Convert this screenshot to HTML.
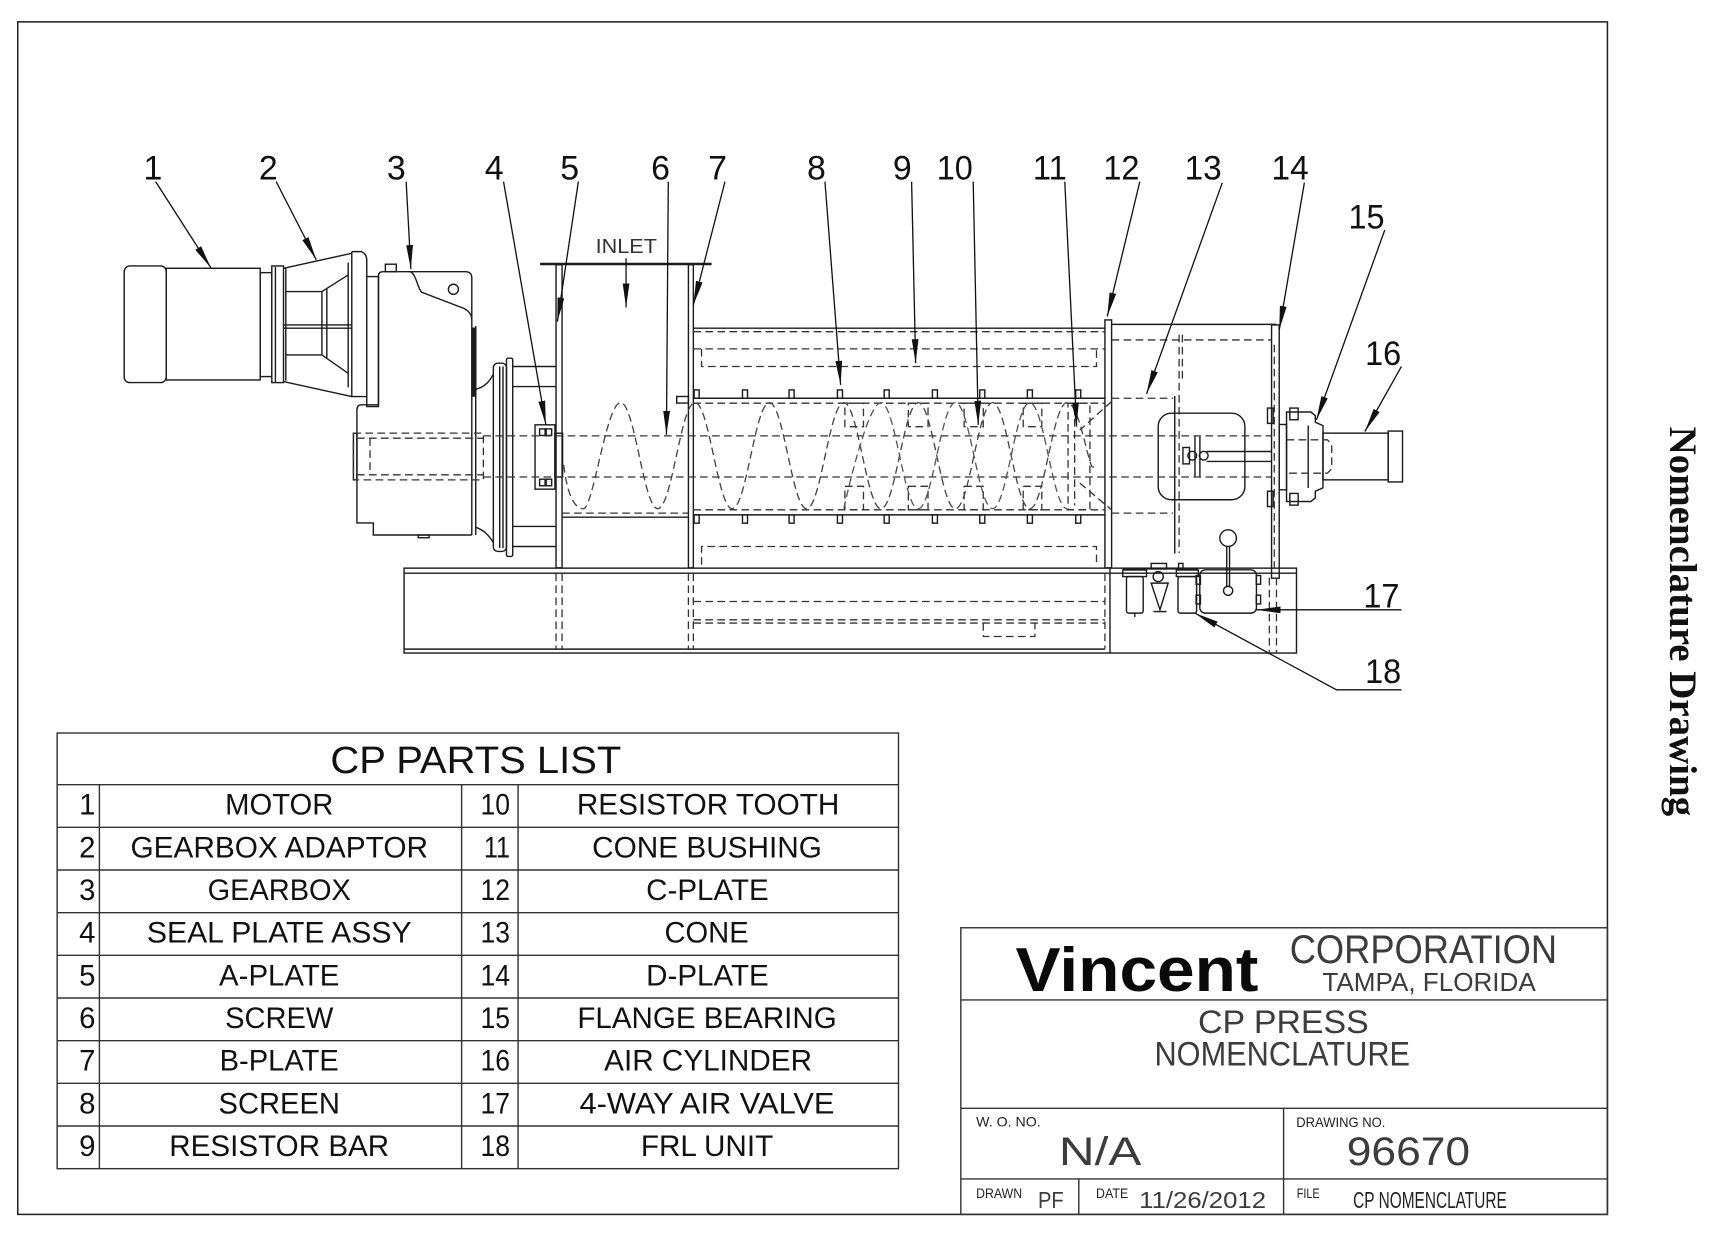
<!DOCTYPE html>
<html><head><meta charset="utf-8"><style>
html,body{margin:0;padding:0;background:#fff;}
svg{display:block;}
</style></head><body>
<svg width="1716" height="1233" viewBox="0 0 1568 1127" xmlns="http://www.w3.org/2000/svg">
<defs>
<marker id="ah" markerUnits="userSpaceOnUse" markerWidth="22" markerHeight="8" refX="22" refY="4" orient="auto"><path d="M0,0.9 L22,4 L0,7.1 z" fill="#111"/></marker>
</defs>
<rect width="1568" height="1127" fill="#fff"/>

<!-- outer border -->
<g fill="none" stroke="#222" stroke-width="1.4">
<rect x="16" y="20" width="1453" height="1090"/>
</g>

<!-- ===== DRAWING SOLID ===== -->
<g fill="none" stroke="#1c1c1c" stroke-width="1.3">
<!-- motor -->
<rect x="113.3" y="243.1" width="38.4" height="106.6" rx="5"/>
<rect x="151.7" y="245.2" width="85.9" height="102.1"/>
<rect x="237.6" y="249.2" width="10.6" height="95"/>
<rect x="248.2" y="243.1" width="10.7" height="106.6"/>
<line x1="251.5" y1="244" x2="251.5" y2="349"/>
<!-- adaptor -->
<line x1="258.9" y1="245.2" x2="321.3" y2="231.5"/>
<line x1="258.9" y1="348.8" x2="321.3" y2="362.5"/>
<path d="M261,266.5 L294,266.5 L318,251.3"/>
<path d="M261,324.4 L294,324.4 L318,341.2"/>
<line x1="261" y1="245" x2="261" y2="348"/>
<line x1="294" y1="266.5" x2="294" y2="324.4"/>
<line x1="298.5" y1="264" x2="298.5" y2="327"/>
<line x1="258.9" y1="297" x2="321.3" y2="297"/>
<line x1="258.9" y1="300" x2="321.3" y2="300"/>
<line x1="318" y1="240" x2="318" y2="354"/>
<path d="M321.3,230 L330,230 Q335,232 335,238 L335,252.8 M335,362.5 L321.3,362.5 L321.3,230"/>
<rect x="335" y="252.8" width="10.7" height="118.8"/>
<!-- gearbox -->
<path d="M345.7,370 L345.7,252 Q345.7,248.3 350,248.3 L425,248.3 Q431,248.3 431,254 L431,489"/>
<path d="M345.7,370 L330,370 Q326,370 326,375 L326,478 L341,478 L341,489 L431,489"/>
<path d="M374.6,248.3 C380,250 381,262 385,267 L424,282 Q431,286 431,292"/>
<circle cx="414.2" cy="264.4" r="4.6"/>
<rect x="352" y="241.5" width="10" height="6.8"/>
<line x1="434.6" y1="298" x2="434.6" y2="489"/>
<rect x="431.3" y="300" width="3.3" height="62" fill="#1c1c1c"/>
<rect x="382" y="489" width="10" height="2.5"/>
<rect x="322.8" y="396" width="3.2" height="42.6"/>
<!-- neck to bearing housing -->
<path d="M434.6,356 C441,354 446,351 450.7,342"/>
<path d="M434.6,482 C441,484 446,488 450.7,496"/>
<!-- bearing housing -->
<rect x="450.7" y="332" width="12" height="172" rx="4"/>
<line x1="456.5" y1="335" x2="456.5" y2="501"/>
<line x1="459.5" y1="335" x2="459.5" y2="501"/>
<rect x="462.7" y="327.4" width="5.7" height="181.2" rx="1.5"/>
<line x1="468.4" y1="335" x2="508" y2="335"/>
<line x1="468.4" y1="353.3" x2="508" y2="353.3"/>
<line x1="468.4" y1="481.2" x2="508" y2="481.2"/>
<line x1="468.4" y1="499.5" x2="508" y2="499.5"/>
<!-- seal plate -->
<rect x="488.8" y="388.3" width="18.2" height="58.8"/>
<rect x="493" y="392" width="5" height="6"/>
<rect x="499" y="392" width="5" height="6"/>
<rect x="493" y="438" width="5" height="6"/>
<rect x="499" y="438" width="5" height="6"/>
<rect x="507" y="396" width="7" height="40"/>
<!-- A-plate, inlet, B-plate -->
<rect x="508" y="242" width="5.5" height="277"/>
<line x1="493.4" y1="241.3" x2="650.2" y2="241.3" stroke-width="2.2"/>
<rect x="629" y="242" width="4.5" height="277"/>
<rect x="618.3" y="362.4" width="10.7" height="6"/>
<line x1="513.5" y1="472.7" x2="629" y2="472.7"/>
<!-- screen housing -->
<line x1="633.5" y1="300" x2="1009.7" y2="300"/>
<line x1="633.5" y1="364" x2="1009.7" y2="364"/>
<line x1="633.5" y1="470.6" x2="1009.7" y2="470.6"/>
<!-- teeth -->
<g>
<rect x="634.2" y="356.4" width="4.6" height="7.6"/><rect x="678.4" y="356.4" width="4.6" height="7.6"/><rect x="721" y="356.4" width="4.6" height="7.6"/><rect x="765.2" y="356.4" width="4.6" height="7.6"/><rect x="807.9" y="356.4" width="4.6" height="7.6"/><rect x="852" y="356.4" width="4.6" height="7.6"/><rect x="895.3" y="356.4" width="4.6" height="7.6"/><rect x="938.8" y="356.4" width="4.6" height="7.6"/><rect x="983" y="356.4" width="4.6" height="7.6"/>
<rect x="634.2" y="470.6" width="4.6" height="7.6"/><rect x="678.4" y="470.6" width="4.6" height="7.6"/><rect x="721" y="470.6" width="4.6" height="7.6"/><rect x="765.2" y="470.6" width="4.6" height="7.6"/><rect x="807.9" y="470.6" width="4.6" height="7.6"/><rect x="852" y="470.6" width="4.6" height="7.6"/><rect x="895.3" y="470.6" width="4.6" height="7.6"/><rect x="938.8" y="470.6" width="4.6" height="7.6"/><rect x="983" y="470.6" width="4.6" height="7.6"/>
</g>
<!-- C-plate, right housing, D-plate -->
<rect x="1009.7" y="292.4" width="6.1" height="226.6"/>
<line x1="1014.3" y1="519" x2="1014.3" y2="597"/>
<line x1="1015.8" y1="296.5" x2="1166.5" y2="296.5"/>
<rect x="1162" y="297" width="7" height="231.5"/>
<line x1="1073.5" y1="362" x2="1073.5" y2="506"/>
<!-- window & coupling -->
<rect x="1058.4" y="377.7" width="79.2" height="79.1" rx="12"/>
<line x1="1092" y1="399" x2="1092" y2="435.5"/>
<line x1="1096.5" y1="399" x2="1096.5" y2="435.5"/>
<rect x="1081" y="409" width="6" height="15"/>
<circle cx="1089.5" cy="416.5" r="4"/>
<circle cx="1100" cy="416.5" r="4"/>
<line x1="1102.6" y1="412.7" x2="1162" y2="412.7"/>
<line x1="1102.6" y1="421.8" x2="1162" y2="421.8"/>
<!-- flange bearing -->
<rect x="1169" y="388" width="6.7" height="59.7"/>
<path d="M1175.7,376.6 L1198,376.6 L1202,380 L1202,386 L1209,389 L1209,446 L1202,449 L1202,455 L1198,458.4 L1175.7,458.4 Z"/>
<line x1="1195.5" y1="389" x2="1195.5" y2="446"/>
<rect x="1158.3" y="373" width="5.2" height="14"/>
<rect x="1158.3" y="449" width="5.2" height="14"/>
<rect x="1178.7" y="373" width="7.6" height="10.7"/>
<rect x="1178.7" y="451" width="7.6" height="10.7"/>
<!-- air cylinder -->
<rect x="1209" y="395.9" width="59.6" height="42.7"/>
<rect x="1268.6" y="394" width="13.1" height="46.5"/>
<!-- base -->
<rect x="369.1" y="519.3" width="815.7" height="77.6"/>
<line x1="369.1" y1="523.9" x2="1184.8" y2="523.9"/>
<line x1="369.1" y1="593.3" x2="1009.7" y2="593.3"/>
<!-- FRL unit -->
<rect x="1026" y="521" width="21.7" height="6"/>
<rect x="1029.4" y="527" width="15.3" height="33.4" rx="2"/>
<line x1="1037" y1="560.4" x2="1037" y2="564"/>
<line x1="1026" y1="520" x2="1095" y2="520"/>
<circle cx="1058.4" cy="527" r="4.6"/>
<rect x="1052" y="515" width="14" height="5"/>
<path d="M1052,533 L1067.5,533 L1060,557.4 Z"/>
<line x1="1054" y1="559" x2="1066" y2="559"/>
<rect x="1075" y="521" width="20" height="6"/>
<rect x="1076.5" y="527" width="17" height="33.4" rx="2"/>
<rect x="1077" y="515" width="4" height="5"/>
<!-- 4-way valve -->
<rect x="1096.4" y="520.8" width="51.8" height="39.6" rx="5"/>
<rect x="1093" y="526" width="4" height="8"/><rect x="1093" y="544" width="4" height="8"/>
<rect x="1148" y="526" width="4" height="8"/><rect x="1148" y="544" width="4" height="8"/>
<line x1="1121" y1="499" x2="1121" y2="537"/>
<line x1="1123.6" y1="499" x2="1123.6" y2="537"/>
<circle cx="1122.3" cy="491.9" r="7.6"/>
<circle cx="1122.3" cy="540" r="4.2"/>
</g>

<!-- ===== HIDDEN (DASHED) LINES ===== -->
<g fill="none" stroke="#333" stroke-width="1.2" stroke-dasharray="7 4">
<!-- gearbox shaft -->
<rect x="322.8" y="395.9" width="118.8" height="42.7"/>
<line x1="326" y1="400.5" x2="441.6" y2="400.5"/>
<line x1="326" y1="434" x2="441.6" y2="434"/>
<line x1="338" y1="400.5" x2="338" y2="434"/>
<!-- main shaft -->
<line x1="441.6" y1="398.4" x2="1162" y2="398.4"/>
<line x1="441.6" y1="436" x2="1162" y2="436"/>
<!-- inlet bottom -->
<line x1="513.5" y1="469" x2="629" y2="469"/>
<!-- screen housing hidden -->
<line x1="633.5" y1="303.2" x2="1009.7" y2="303.2"/>
<line x1="633.5" y1="318.9" x2="1009.7" y2="318.9"/>
<path d="M641,318.9 L641,335 L1002,335 L1002,318.9"/>
<line x1="633.5" y1="368.5" x2="1009.7" y2="368.5"/>
<line x1="633.5" y1="466" x2="1009.7" y2="466"/>
<path d="M641,516.2 L641,499.5 L1002,499.5 L1002,517"/>
<!-- resistor teeth -->
<rect x="772" y="368.5" width="17" height="21.5"/>
<rect x="830" y="368.5" width="18" height="21.5"/>
<rect x="881" y="368.5" width="17.5" height="21.5"/>
<rect x="935" y="368.5" width="17" height="21.5"/>
<rect x="772" y="444.5" width="17" height="21.5"/>
<rect x="830" y="444.5" width="18" height="21.5"/>
<rect x="881" y="444.5" width="17.5" height="21.5"/>
<rect x="935" y="444.5" width="17" height="21.5"/>
<!-- cone bushing & cone -->
<rect x="976" y="368.5" width="20" height="97.5"/>
<line x1="982" y1="372" x2="982" y2="462"/>
<line x1="1015.8" y1="367" x2="986.8" y2="393"/>
<line x1="986.8" y1="441.6" x2="1015.8" y2="466"/>
<line x1="1015.8" y1="364" x2="1072" y2="364"/>
<line x1="1015.8" y1="469" x2="1072" y2="469"/>
<line x1="1015.8" y1="310.7" x2="1162" y2="310.7"/>
<line x1="1077.5" y1="306" x2="1077.5" y2="505.6"/>
<line x1="1080.5" y1="306" x2="1080.5" y2="350"/>
<line x1="1164.5" y1="315" x2="1164.5" y2="520"/>
<!-- base hidden -->
<line x1="508" y1="524" x2="508" y2="593"/>
<line x1="513.5" y1="524" x2="513.5" y2="593"/>
<line x1="629" y1="524" x2="629" y2="593"/>
<line x1="633.5" y1="524" x2="633.5" y2="593"/>
<line x1="1009.7" y1="524" x2="1009.7" y2="593"/>
<line x1="1160" y1="528" x2="1160" y2="597"/>
<line x1="1166.5" y1="528" x2="1166.5" y2="597"/>
<line x1="633.5" y1="549.8" x2="1009.7" y2="549.8"/>
<line x1="633.5" y1="566.5" x2="1009.7" y2="566.5"/>
<line x1="633.5" y1="569.5" x2="1009.7" y2="569.5"/>
<path d="M898.5,569.5 L898.5,581.8 L945.7,581.8 L945.7,569.5"/>
<!-- cylinder rod end -->
<path d="M1175.7,402 L1213,402 L1217,406 L1217,428.5 L1213,432.5 L1175.7,432.5"/>
<!-- screw flights -->
<path stroke="#444" d="M515,425 C518,450 524,465 533,465 S554,368 567,368 S588,465 601,465 S622,368 635,368 S656,465 669,465 S690,368 703,368 S724,465 737,465 S758,368 771,368 S792,465 805,465 S826,368 839,368 S860,465 873,465 S894,368 907,368 S928,465 941,465 S962,368 975,368 S996,440 1000,425"/>
<path stroke="#555" d="M771,465 S792,368 805,368 S826,465 839,465 S860,368 873,368 S894,465 907,465 S928,368 941,368 S962,465 975,465"/>
</g>

<!-- ===== LEADERS ===== -->
<g fill="none" stroke="#111" stroke-width="1.2" marker-end="url(#ah)">
<line x1="142" y1="166" x2="192.8" y2="245.2"/>
<line x1="252.2" y1="166" x2="288.9" y2="237.6"/>
<line x1="371" y1="166" x2="375.3" y2="246"/>
<line x1="460" y1="166" x2="498.7" y2="388.3"/>
<line x1="528.4" y1="166" x2="509.2" y2="294"/>
<line x1="610.6" y1="166" x2="608.9" y2="397.5"/>
<line x1="662.4" y1="166" x2="633.5" y2="278.7"/>
<line x1="753.8" y1="166" x2="768.1" y2="351.8"/>
<line x1="833" y1="166" x2="836.7" y2="332"/>
<line x1="889.3" y1="166" x2="893.9" y2="388.3"/>
<line x1="973" y1="166" x2="983.8" y2="389.9"/>
<line x1="1041.6" y1="166" x2="1011.8" y2="289.3"/>
<line x1="1117" y1="167" x2="1047.7" y2="360"/>
<line x1="1192" y1="167" x2="1169" y2="301.6"/>
<line x1="1265.5" y1="210.2" x2="1203" y2="383.8"/>
<line x1="1280.7" y1="335" x2="1247.3" y2="394.4"/>
<line x1="1280.7" y1="557.4" x2="1148.2" y2="557.4"/>
<polyline points="1280.7,630.5 1221.3,630.5 1091.9,560.4"/>
<line x1="572" y1="236" x2="572" y2="281"/>
</g>

<!-- ===== LABELS ===== -->
<g font-family="'Liberation Sans', Arial, sans-serif" font-size="31" fill="#111" text-anchor="middle">
<text x="139.5" y="164">1</text>
<text x="245" y="164">2</text>
<text x="362" y="164">3</text>
<text x="451.5" y="164">4</text>
<text x="520.5" y="164">5</text>
<text x="603.5" y="164">6</text>
<text x="655.6" y="164">7</text>
<text x="746" y="164">8</text>
<text x="824.5" y="164">9</text>
<text x="872.5" y="164" textLength="33" lengthAdjust="spacingAndGlyphs">10</text>
<text x="959.3" y="164" textLength="31" lengthAdjust="spacingAndGlyphs">11</text>
<text x="1024.8" y="164" textLength="33" lengthAdjust="spacingAndGlyphs">12</text>
<text x="1099.5" y="164" textLength="34" lengthAdjust="spacingAndGlyphs">13</text>
<text x="1179" y="164" textLength="34" lengthAdjust="spacingAndGlyphs">14</text>
<text x="1248.8" y="208.7" textLength="33" lengthAdjust="spacingAndGlyphs">15</text>
<text x="1264" y="333.5" textLength="33" lengthAdjust="spacingAndGlyphs">16</text>
<text x="1262.4" y="555.5" textLength="33" lengthAdjust="spacingAndGlyphs">17</text>
<text x="1264" y="624.4" textLength="33" lengthAdjust="spacingAndGlyphs">18</text>
</g>
<text x="544.2" y="231.4" font-family="'Liberation Sans', Arial, sans-serif" font-size="19" fill="#333" textLength="56" lengthAdjust="spacingAndGlyphs">INLET</text>

<!-- ===== PARTS TABLE ===== -->
<g fill="none" stroke="#333" stroke-width="1.3">
<rect x="52" y="670" width="769" height="398.2"/>
<line x1="52" y1="717.2" x2="821" y2="717.2"/>
<line x1="52" y1="756.2" x2="821" y2="756.2"/>
<line x1="52" y1="795.2" x2="821" y2="795.2"/>
<line x1="52" y1="834.2" x2="821" y2="834.2"/>
<line x1="52" y1="873.2" x2="821" y2="873.2"/>
<line x1="52" y1="912.2" x2="821" y2="912.2"/>
<line x1="52" y1="951.2" x2="821" y2="951.2"/>
<line x1="52" y1="990.2" x2="821" y2="990.2"/>
<line x1="52" y1="1029.2" x2="821" y2="1029.2"/>
<line x1="90.6" y1="717.2" x2="90.6" y2="1068.2"/>
<line x1="421.7" y1="717.2" x2="421.7" y2="1068.2"/>
<line x1="473.3" y1="717.2" x2="473.3" y2="1068.2"/>
</g>
<g font-family="'Liberation Sans', Arial, sans-serif" fill="#111" font-size="26.8">
<text x="434.7" y="706.5" font-size="35" text-anchor="middle" textLength="266" lengthAdjust="spacingAndGlyphs">CP PARTS LIST</text>
<g text-anchor="end">
<text x="87" y="744.6">1</text><text x="87" y="783.6">2</text><text x="87" y="822.6">3</text><text x="87" y="861.6">4</text><text x="87" y="900.6">5</text><text x="87" y="939.6">6</text><text x="87" y="978.6">7</text><text x="87" y="1017.6">8</text><text x="87" y="1056.6">9</text>
<text x="466" y="744.6" textLength="27" lengthAdjust="spacingAndGlyphs">10</text><text x="466" y="783.6" textLength="24" lengthAdjust="spacingAndGlyphs">11</text><text x="466" y="822.6" textLength="27" lengthAdjust="spacingAndGlyphs">12</text><text x="466" y="861.6" textLength="27" lengthAdjust="spacingAndGlyphs">13</text><text x="466" y="900.6" textLength="27" lengthAdjust="spacingAndGlyphs">14</text><text x="466" y="939.6" textLength="27" lengthAdjust="spacingAndGlyphs">15</text><text x="466" y="978.6" textLength="27" lengthAdjust="spacingAndGlyphs">16</text><text x="466" y="1017.6" textLength="27" lengthAdjust="spacingAndGlyphs">17</text><text x="466" y="1056.6" textLength="27" lengthAdjust="spacingAndGlyphs">18</text>
</g>
<g text-anchor="middle">
<text x="255" y="744.6" textLength="99" lengthAdjust="spacingAndGlyphs">MOTOR</text>
<text x="255" y="783.6" textLength="272" lengthAdjust="spacingAndGlyphs">GEARBOX ADAPTOR</text>
<text x="255" y="822.6" textLength="131" lengthAdjust="spacingAndGlyphs">GEARBOX</text>
<text x="255" y="861.6" textLength="242" lengthAdjust="spacingAndGlyphs">SEAL PLATE ASSY</text>
<text x="255" y="900.6" textLength="110" lengthAdjust="spacingAndGlyphs">A-PLATE</text>
<text x="255" y="939.6" textLength="99" lengthAdjust="spacingAndGlyphs">SCREW</text>
<text x="255" y="978.6" textLength="109" lengthAdjust="spacingAndGlyphs">B-PLATE</text>
<text x="255" y="1017.6" textLength="111" lengthAdjust="spacingAndGlyphs">SCREEN</text>
<text x="255" y="1056.6" textLength="201" lengthAdjust="spacingAndGlyphs">RESISTOR BAR</text>
<text x="647" y="744.6" textLength="240" lengthAdjust="spacingAndGlyphs">RESISTOR TOOTH</text>
<text x="646" y="783.6" textLength="210" lengthAdjust="spacingAndGlyphs">CONE BUSHING</text>
<text x="646.4" y="822.6" textLength="112" lengthAdjust="spacingAndGlyphs">C-PLATE</text>
<text x="645.6" y="861.6" textLength="77" lengthAdjust="spacingAndGlyphs">CONE</text>
<text x="646.4" y="900.6" textLength="112" lengthAdjust="spacingAndGlyphs">D-PLATE</text>
<text x="646" y="939.6" textLength="237" lengthAdjust="spacingAndGlyphs">FLANGE BEARING</text>
<text x="647" y="978.6" textLength="190" lengthAdjust="spacingAndGlyphs">AIR CYLINDER</text>
<text x="646" y="1017.6" textLength="233" lengthAdjust="spacingAndGlyphs">4-WAY AIR VALVE</text>
<text x="646" y="1056.6" textLength="121" lengthAdjust="spacingAndGlyphs">FRL UNIT</text>
</g>
</g>

<!-- ===== TITLE BLOCK ===== -->
<g fill="none" stroke="#333" stroke-width="1.3">
<rect x="878" y="848" width="591" height="262"/>
<line x1="878" y1="914" x2="1469" y2="914"/>
<line x1="878" y1="1013" x2="1469" y2="1013"/>
<line x1="878" y1="1077.6" x2="1469" y2="1077.6"/>
<line x1="1173" y1="1013" x2="1173" y2="1110"/>
<line x1="985.8" y1="1077.6" x2="985.8" y2="1110"/>
</g>
<g font-family="'Liberation Sans', Arial, sans-serif" fill="#3c3c3c">
<text x="928" y="906" font-size="57" font-weight="bold" fill="#0a0a0a" textLength="222" lengthAdjust="spacingAndGlyphs">Vincent</text>
<text x="1178.6" y="880" font-size="36" textLength="244.4" lengthAdjust="spacingAndGlyphs">CORPORATION</text>
<text x="1208.5" y="906" font-size="23.7" textLength="195" lengthAdjust="spacingAndGlyphs">TAMPA, FLORIDA</text>
<text x="1094.8" y="944" font-size="30" textLength="156" lengthAdjust="spacingAndGlyphs">CP PRESS</text>
<text x="1055" y="974" font-size="31" textLength="233.6" lengthAdjust="spacingAndGlyphs">NOMENCLATURE</text>
<text x="892" y="1029.6" font-size="12.7" fill="#222" textLength="59" lengthAdjust="spacingAndGlyphs">W. O. NO.</text>
<text x="967.6" y="1065" font-size="36" textLength="75.4" lengthAdjust="spacingAndGlyphs">N/A</text>
<text x="1184.6" y="1030" font-size="12.7" fill="#222" textLength="81.4" lengthAdjust="spacingAndGlyphs">DRAWING NO.</text>
<text x="1230.7" y="1065" font-size="36" textLength="112.8" lengthAdjust="spacingAndGlyphs">96670</text>
<text x="892" y="1095" font-size="12.5" fill="#222" textLength="42" lengthAdjust="spacingAndGlyphs">DRAWN</text>
<text x="948.5" y="1104" font-size="21" textLength="23.5" lengthAdjust="spacingAndGlyphs">PF</text>
<text x="1001.6" y="1095" font-size="12.5" fill="#222" textLength="29.4" lengthAdjust="spacingAndGlyphs">DATE</text>
<text x="1041" y="1104" font-size="21" textLength="116" lengthAdjust="spacingAndGlyphs">11/26/2012</text>
<text x="1185" y="1095" font-size="12.5" fill="#222" textLength="21" lengthAdjust="spacingAndGlyphs">FILE</text>
<text x="1236.6" y="1104" font-size="21" fill="#222" textLength="140.4" lengthAdjust="spacingAndGlyphs">CP NOMENCLATURE</text>
</g>

<!-- rotated side title -->
<text transform="translate(1526,390) rotate(90)" font-family="'Liberation Serif', 'Times New Roman', serif" font-size="36" font-weight="bold" fill="#111" textLength="356" lengthAdjust="spacingAndGlyphs">Nomenclature Drawing</text>
</svg>
</body></html>
